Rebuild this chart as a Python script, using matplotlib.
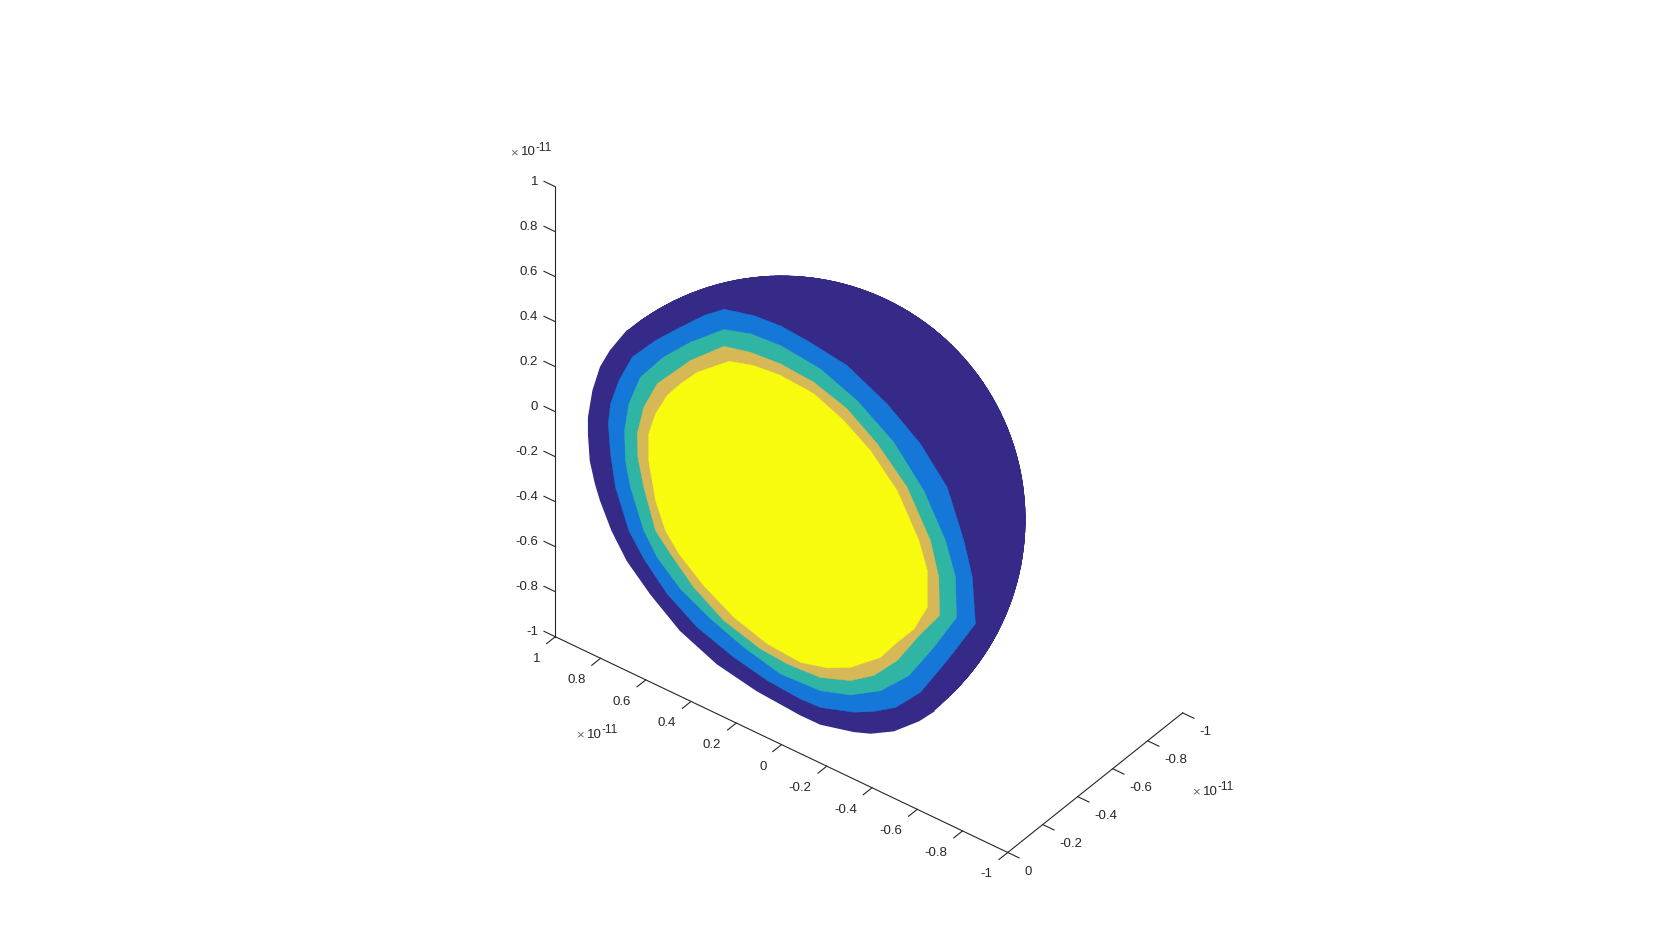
import numpy as np
import matplotlib
matplotlib.use('Agg')
import matplotlib.pyplot as plt
from mpl_toolkits.mplot3d import proj3d
from mpl_toolkits.mplot3d.art3d import Poly3DCollection

plt.rcParams['font.family'] = ['Liberation Sans', 'DejaVu Sans']

# all lengths in units of 1e-11
radius = 0.851

x_ticks = [1, 0.8, 0.6, 0.4, 0.2, 0, -0.2, -0.4, -0.6, -0.8, -1]
y_ticks = [0, -0.2, -0.4, -0.6, -0.8, -1]
z_ticks = [1, 0.8, 0.6, 0.4, 0.2, 0, -0.2, -0.4, -0.6, -0.8, -1]

# contour outlines on the cut plane y = 0
dark_x = [.684, .758, .802, .835, .855, .855, .847, .824, .802, .751, .684, .581, .449, .286, .110, -.082,
          -.170, -.317, -.391, -.494, -.605, -.671]
dark_z = [.514, .390, .295, .176, .047, -.027, -.142, -.234, -.297, -.407, -.508, -.606, -.706, -.776, -.811, -.826,
          -.825, -.787, -.759, -.699, -.601, -.527]

blue_x = [.257, .125, .007, -.111, -.288, -.465, -.612, -.730, -.804, -.841, -.855, -.730, -.612, -.502, -.406,
          -.317, -.170, -.082, .065, .213, .375, .508, .611, .677, .736, .758, .768, .758, .721, .662, .559, .478, .346]
blue_z = [.814, .849, .860, .851, .825, .739, .632, .496, .294, .149, -.051, -.274, -.472, -.592, -.656,
          -.702, -.751, -.756, -.744, -.712, -.656, -.571, -.465, -.371, -.207, -.069, .060, .153, .274, .407, .530, .613, .743]

teal_x = [.257, .139, .007, -.170, -.332, -.494, -.627, -.723, -.767, -.771, -.671, -.561, -.435, -.303,
          -.170, .007, .169, .316, .449, .552, .611, .670, .692, .696, .677, .626, .523, .405]
teal_z = [.724, .761, .773, .753, .690, .583, .431, .255, .113, -.063, -.244, -.422, -.550, -.632,
          -.677, -.687, -.646, -.590, -.521, -.430, -.340, -.175, -.068, .064, .192, .335, .474, .596]

gold_x = [.257, .139, .007, -.141, -.288, -.421, -.553, -.656, -.693, -.696, -.612, -.509, -.406, -.303,
          -.170, -.023, .095, .257, .390, .493, .559, .611, .637, .640, .611, .552, .405]
gold_z = [.649, .679, .691, .680, .632, .541, .411, .223, .078, -.091, -.213, -.380, -.496, -.568,
          -.618, -.628, -.618, -.570, -.486, -.386, -.315, -.147, -.026, .076, .208, .341, .515]

yellow_x = [.235, .125, .007, -.141, -.273, -.391, -.509, -.605, -.642, -.642, -.583, -.509, -.435, -.303,
            -.200, -.082, .065, .213, .346, .456, .515, .559, .589, .589, .559, .508, .449, .375]
yellow_z = [.593, .627, .640, .629, .573, .496, .375, .199, .084, -.080, -.205, -.299, -.402, -.509,
            -.561, -.593, -.581, -.534, -.457, -.368, -.294, -.181, -.018, .101, .204, .310, .390, .477]

colors = ['#352a87', '#1578d8', '#30b5a5', '#d6b956', '#f9fb0e']
line_color = '#262626'

W, H = 1680, 933
fig = plt.figure(figsize=(W / 100, H / 100), dpi=100)
ax = fig.add_axes([0, 0, 1, 1], projection='3d', proj_type='ortho', computed_zorder=False)
ax.set_xlim(-1, 1)
ax.set_ylim(-1, 0)
ax.set_zlim(-1, 1)
ax.view_init(elev=38.1, azim=127.7)
ax.set_axis_off()

# visible back half of the sphere, between the two points where the cut meets the outline
t = np.radians(np.linspace(0, 90, 30))
p = np.radians(np.linspace(37, 218, 60))
T, P = np.meshgrid(t, p)
ax.plot_surface(radius * np.sin(T) * np.cos(P), -radius * np.cos(T), radius * np.sin(T) * np.sin(P),
                color=colors[0], shade=False, edgecolor=colors[0], linewidth=1.0, rstride=1, cstride=1, zorder=1)

# the outermost contour closes along the rim of the sphere
rim_x = list(radius * np.cos(p[::-1]))
rim_z = list(radius * np.sin(p[::-1]))
outlines = [(dark_x + rim_x, dark_z + rim_z), (blue_x, blue_z), (teal_x, teal_z), (gold_x, gold_z), (yellow_x, yellow_z)]

# the cut face
for i, (ox, oz) in enumerate(outlines):
    verts = list(zip(ox, np.zeros(len(ox)), oz))
    ax.add_collection3d(Poly3DCollection([verts], facecolor=colors[i], edgecolor=colors[i],
                                         linewidth=1.0 if i == 0 else 0.3, zorder=2 + i))

# box lines
line_kw = dict(color=line_color, lw=0.8, zorder=10)
ax.plot([1, 1], [0, 0], [-1, 1], **line_kw)
ax.plot([1, -1], [0, 0], [-1, -1], **line_kw)
ax.plot([-1, -1], [0, -1], [-1, -1], **line_kw)
for v in z_ticks:
    ax.plot([1, 1.05], [0, 0], [v, v], **line_kw)
for v in x_ticks:
    ax.plot([v, v], [0, 0.05], [-1, -1], **line_kw)
for v in y_ticks:
    ax.plot([-1, -1.05], [v, v], [-1, -1], **line_kw)


def to_pixels(x, y, z):
    px, py, _ = proj3d.proj_transform(x, y, z, ax.get_proj())
    return ax.transData.transform((px, py))


# fit the box to the reference: z axis 450 px long, corner (1, 0, -1) at pixel (555.3, 636.7)
ax.set_box_aspect((2, 1, 2), zoom=1.0)
fig.canvas.draw()
length = to_pixels(1, 0, 1)[1] - to_pixels(1, 0, -1)[1]
ax.set_box_aspect((2, 1, 2), zoom=450 / length)
fig.canvas.draw()
corner = to_pixels(1, 0, -1)
ax.set_position([(555.3 - corner[0]) / W, (H - 636.7 - corner[1]) / H, 1, 1])
fig.canvas.draw()


def put_text(x, y, z, s, ha, dx=0, dy=0, size=9.5, color=line_color):
    px, py = to_pixels(x, y, z)
    fig.text((px + dx) / W, (py + dy) / H, s, ha=ha, va='center', fontsize=size, color=color)


for v in z_ticks:
    put_text(1.076, 0, v - 0.011, f'{v:g}', 'right', dy=-1)
for v in x_ticks:
    put_text(v, 0.086, -1.04, f'{v:g}', 'right', dy=-1)
for v in y_ticks:
    put_text(-1.073, v, -1.042, f'{v:g}', 'left', dy=-2)

for ex, ey, ez in [(1.200, 0, 1.063), (0.908, 0, -1.384), (-1.815, 0, -0.332)]:
    put_text(ex, ey, ez, '×', 'left', dy=-2, color='#666666')
    put_text(ex, ey, ez, '10', 'left', dx=11, dy=-1.5)
    put_text(ex, ey, ez, '-11', 'left', dx=25.5, dy=3, size=8.5)

fig.savefig('out.png', dpi=100, facecolor='white')
